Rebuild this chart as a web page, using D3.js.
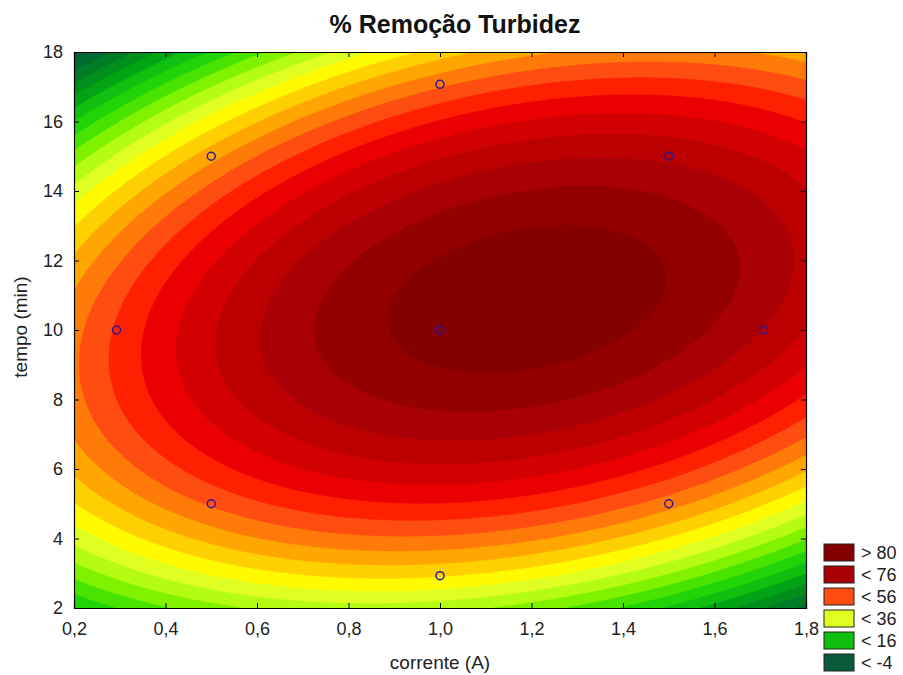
<!DOCTYPE html>
<html>
<head>
  <meta charset="utf-8">
  <title>% Remoção Turbidez - contour</title>
  <script src="https://d3js.org/d3.v7.min.js"></script>
  <style>
    body {
      margin: 0;
      background: #fff;
      font-family: "Liberation Sans", Arial, sans-serif;
    }
    .axis text {
      font-family: "Liberation Sans", Arial, sans-serif;
      font-size: 18px;
      fill: #222;
    }
    .axis path, .axis line {
      stroke: #000;
    }
  </style>
</head>
<body>
  <div id="chart"></div>
  <script>
    // fitted quadratic model: b0 + b1*x + b2*y + b11*x^2 + b22*y^2 + b12*x*y
    var coef = [-16.31, 53.35, 12.41, -35.0, -0.72, 2.75];

    // contour levels (step 4) and the colour of each band
    var levels = [-4, 0, 4, 8, 12, 16, 20, 24, 28, 32, 36, 40, 44, 48, 52, 56, 60, 64, 68, 72, 76, 80];
    var bandColors = ["#0a5a3c", "#006a30", "#007c26", "#008e1c", "#00a414", "#10c010",
                      "#20d408", "#48e400", "#80f200", "#b4fc10", "#e0ff20", "#fffa00",
                      "#ffd000", "#ffa600", "#ff7a08", "#ff4c10", "#ff2000", "#ea0000",
                      "#d20000", "#bc0000", "#a80004", "#940000", "#840000"];

    // experimental design points
    var pointX = [0.5, 1.5, 0.5, 1.5, 0.293, 1.707, 1.0, 1.0, 1.0];
    var pointY = [5, 5, 15, 15, 10, 10, 2.93, 17.07, 10];

    var xTicks = [0.2, 0.4, 0.6, 0.8, 1.0, 1.2, 1.4, 1.6, 1.8];
    var yTicks = [2, 4, 6, 8, 10, 12, 14, 16, 18];

    // legend entries (label, band index)
    var legendLabels = ["> 80", "< 76", "< 56", "< 36", "< 16", "< -4"];
    var legendBands = [22, 20, 15, 10, 5, 0];

    var svg = d3.select("#chart")
      .append("svg")
      .attr("width", 903)
      .attr("height", 675);

    var margin = {top: 52, right: 97, bottom: 67, left: 74};
    var width = 903 - margin.left - margin.right;   // 732
    var height = 675 - margin.top - margin.bottom;  // 556

    var x = d3.scaleLinear().domain([0.2, 1.8]).range([0, width]);
    var y = d3.scaleLinear().domain([2, 18]).range([height, 0]);

    function model(a, b) {
      return coef[0] + coef[1] * a + coef[2] * b + coef[3] * a * a + coef[4] * b * b + coef[5] * a * b;
    }

    var g = svg.append("g")
      .attr("transform", "translate(" + margin.left + "," + margin.top + ")");

    g.append("clipPath").attr("id", "plotclip")
      .append("rect").attr("width", width).attr("height", height);

    var plot = g.append("g").attr("clip-path", "url(#plotclip)");

    // lowest band fills the background
    plot.append("rect")
      .attr("width", width)
      .attr("height", height)
      .attr("fill", bandColors[0]);

    // sample the surface on a grid and build the filled contours
    var step = 2;
    var n = Math.ceil(width / step), m = Math.ceil(height / step);
    var values = new Array(n * m);
    for (var j = 0; j < m; j++) {
      for (var i = 0; i < n; i++) {
        values[j * n + i] = model(x.invert((i + 0.5) * step), y.invert((j + 0.5) * step));
      }
    }

    var contours = d3.contours().size([n, m]).thresholds(levels)(values);
    var path = d3.geoPath(d3.geoIdentity().scale(step));

    plot.selectAll(".band")
      .data(contours)
      .enter()
      .append("path")
      .attr("class", "band")
      .attr("d", path)
      .attr("fill", function(d, k) { return bandColors[k + 1]; })
      .attr("stroke", function(d, k) { return bandColors[k + 1]; })
      .attr("stroke-width", 0.5);

    // design points
    plot.selectAll(".pt")
      .data(pointX)
      .enter()
      .append("circle")
      .attr("class", "pt")
      .attr("cx", function(d) { return x(d); })
      .attr("cy", function(d, k) { return y(pointY[k]); })
      .attr("r", 4)
      .attr("fill", "none")
      .attr("stroke", "#2c1890")
      .attr("stroke-width", 1.5);

    var fmt = function(v) { return d3.format(".1f")(v).replace(".", ","); };

    // axes with inward ticks on all four sides
    g.append("g")
      .attr("class", "axis")
      .attr("transform", "translate(0," + height + ")")
      .call(d3.axisBottom(x).tickValues(xTicks).tickSize(-5).tickPadding(14).tickFormat(fmt));

    g.append("g")
      .attr("class", "axis")
      .call(d3.axisLeft(y).tickValues(yTicks).tickSize(-5).tickPadding(11).tickFormat(d3.format("d")));

    g.append("g")
      .attr("class", "axis")
      .call(d3.axisTop(x).tickValues(xTicks).tickSize(-5).tickFormat(""));

    g.append("g")
      .attr("class", "axis")
      .attr("transform", "translate(" + width + ",0)")
      .call(d3.axisRight(y).tickValues(yTicks).tickSize(-5).tickFormat(""));

    g.selectAll(".axis .domain").attr("stroke-width", 1.2);

    // title
    svg.append("text")
      .attr("x", 455)
      .attr("y", 33)
      .attr("text-anchor", "middle")
      .style("font-size", "25px")
      .style("font-weight", "bold")
      .style("fill", "#111")
      .text("% Remoção Turbidez");

    // axis labels
    svg.append("text")
      .attr("x", margin.left + width / 2)
      .attr("y", 669)
      .attr("text-anchor", "middle")
      .style("font-size", "19px")
      .style("fill", "#222")
      .text("corrente (A)");

    svg.append("text")
      .attr("transform", "rotate(-90)")
      .attr("x", -327)
      .attr("y", 27)
      .attr("text-anchor", "middle")
      .style("font-size", "19px")
      .style("fill", "#222")
      .text("tempo (min)");

    // legend
    var legend = svg.append("g").attr("transform", "translate(824,544)");
    legend.selectAll("rect")
      .data(legendBands)
      .enter()
      .append("rect")
      .attr("x", 0)
      .attr("y", function(d, k) { return k * 22; })
      .attr("width", 30)
      .attr("height", 17)
      .attr("fill", function(d) { return bandColors[d]; })
      .attr("stroke", "#222")
      .attr("stroke-width", 1);

    legend.selectAll("text")
      .data(legendLabels)
      .enter()
      .append("text")
      .attr("x", 37)
      .attr("y", function(d, k) { return k * 22 + 15; })
      .style("font-size", "18px")
      .style("fill", "#222")
      .text(function(d) { return d; });
  </script>
</body>
</html>
